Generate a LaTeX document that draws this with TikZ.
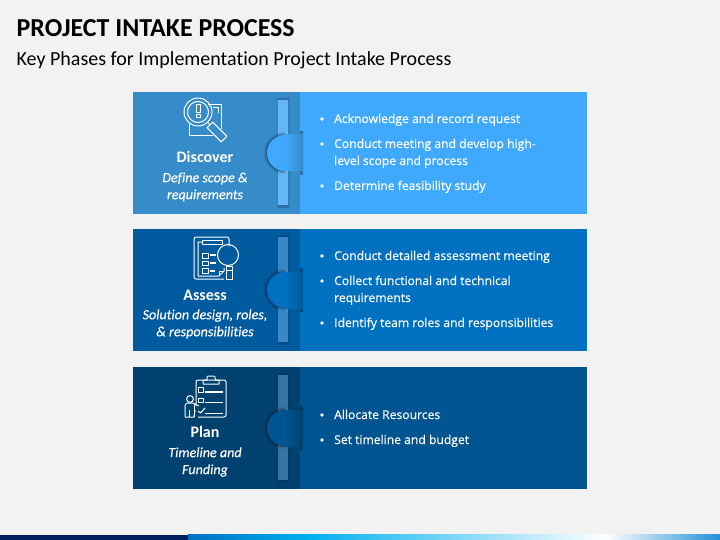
\documentclass[tikz,border=0pt]{standalone}
\usepackage{fontspec}
\setmainfont{Carlito}[RawFeature={-liga}]
\newfontfamily\bodyfont{Open Sans}[FakeBold=0.3]
\newfontfamily\subfont{Carlito}[RawFeature={-liga},ItalicFont={Carlito Italic},ItalicFeatures={FakeBold=0.3}]
\definecolor{pageb}{HTML}{F2F2F2}
\definecolor{navy}{HTML}{002060}
\definecolor{bandA}{HTML}{0070C0}
\definecolor{bandB}{HTML}{00B0F0}
\definecolor{bandC}{HTML}{2090D8}
\definecolor{aL}{HTML}{368BC9}\definecolor{aR}{HTML}{3FA9FF}\definecolor{aB}{HTML}{66B5F5}\definecolor{aD}{HTML}{2A70A6}
\definecolor{bL}{HTML}{005A9E}\definecolor{bR}{HTML}{0070C0}\definecolor{bB}{HTML}{3A86C6}\definecolor{bD}{HTML}{004C86}
\definecolor{cL}{HTML}{00416F}\definecolor{cR}{HTML}{005490}\definecolor{cB}{HTML}{3574A3}\definecolor{cD}{HTML}{00375F}
\tikzset{
 panelbox/.style={draw=none,inner sep=0pt,anchor=north west},
 head/.style={text=white,font=\fontsize{16}{16}\selectfont\bfseries,inner sep=0pt},
 sub/.style={text=white,font=\subfont\fontsize{14.1}{17}\selectfont\itshape,align=center,inner sep=0pt},
 item/.style={text=white,font=\bodyfont\fontsize{12.15}{12.15}\selectfont,anchor=west,inner sep=0pt,text height=9pt,text depth=3pt,yshift=-1pt},
 dotm/.style={circle,fill=white,inner sep=0pt,minimum size=3.8pt},
 ic/.style={draw=white,line width=1pt,line join=round},
 ict/.style={draw=white,line width=1.6pt}
}
\newcommand{\panelbase}[2]{%
 \node[panelbox,fill=#1L,minimum width=167pt,minimum height=122pt] (#1left) at (133,#2) {};
 \node[panelbox,fill=#1R,minimum width=287pt,minimum height=122pt] (#1right) at (300,#2) {};
 \fill[#1D!45!#1L] (276.5,#2+6) rectangle (289.5,#2+116);
 \fill[#1D] (277.5,#2+6) rectangle (288.5,#2+8);
 \fill[#1D] (277.5,#2+113) rectangle (288.5,#2+116);
 \fill[#1B] (278,#2+8) rectangle (288,#2+113);
 \fill[#1D] (300,#2+39) rectangle (303,#2+83);
 \foreach \w/\o in {7/.05,5/.08,3/.12,1.5/.18}{
  \draw[line width=\w pt,black,opacity=\o] (285,#2+43) arc[start angle=-90,end angle=-270,radius=18];}
 \fill[#1R] (285,#2+43) arc[start angle=-90,end angle=-270,radius=18] -- cycle;
 \shade[left color=#1R,right color=#1L] (285,#2+43) rectangle (303,#2+79);
}
\newcommand{\bulletitem}[3]{%
 \node[dotm] (#1d) at (322,#2) {};
 \node[item] (#1t) at (334,#2) {#3};
}
\begin{document}
\begin{tikzpicture}[x=1pt,y=-1pt]
\useasboundingbox (0,0) rectangle (720,540);
\fill[pageb] (0,0) rectangle (720,540);
\node[anchor=base west,inner sep=0pt,font=\fontsize{25.9}{25.9}\selectfont\bfseries] (title) at (16.5,37) {PROJECT INTAKE PROCESS};
\node[anchor=base west,inner sep=0pt,font=\fontsize{20}{20}\selectfont] (subtitle) at (16.5,66) {Key Phases for Implementation Project Intake Process};
% bottom band
\fill[navy] (0,534.7) rectangle (188,540);
\shade[left color=bandA,right color=bandB] (188,534.7) rectangle (308,540);
\shade[left color=bandB,right color=white] (308,534.7) rectangle (606,540);
\shade[left color=white,right color=bandC] (606,534.7) rectangle (720,540);
% panels
\panelbase{a}{92}
\panelbase{b}{229}
\panelbase{c}{367}
% panel 1
\node[head] (h1) at (205,157) {Discover};
\node[sub] (s1) at (205,187) {Define scope \&\\requirements};
\bulletitem{p}{119}{Acknowledge and record request}
\bulletitem{q}{144}{Conduct meeting and develop high-}
\node[item] (q2) at (334,161) {level scope and process};
\bulletitem{r}{186}{Determine feasibility study}
% panel 2
\node[head] (h2) at (205,295) {Assess};
\node[sub] (s2) at (205,324) {Solution design, roles,\\\& responsibilities};
\bulletitem{u}{256}{Conduct detailed assessment meeting}
\bulletitem{v}{281}{Collect functional and technical}
\node[item] (v2) at (334,298) {requirements};
\bulletitem{w}{323}{Identify team roles and responsibilities}
% panel 3
\node[head] (h3) at (205,432) {Plan};
\node[sub] (s3) at (205,462) {Timeline and\\Funding};
\bulletitem{x}{415}{Allocate Resources}
\bulletitem{y}{440}{Set timeline and budget}
% icon 1
\draw[ic] (189,124) -- (189,136) -- (213,136);
\draw[ic] (208,105) -- (221,105) -- (221,129);
\draw[ic] (213,107.5) -- (218.5,107.5) -- (218.5,113);
\draw[ic] (198,112) circle[radius=14];
\draw[ic] (198,112) circle[radius=10.5];
\draw[ic] (196,105) rectangle (200,113);
\draw[ic] (196,115) rectangle (200,118);
\draw[ic] (207,122) -- (210,125);
\draw[ic,rotate around={-45:(217,132)}] (207,128) rectangle (227,136);
% icon 2
\draw[ic] (229,246) -- (229,239) arc[start angle=0,end angle=-90,radius=2] -- (196,237) arc[start angle=-90,end angle=-180,radius=2] -- (194,277) arc[start angle=-180,end angle=-270,radius=2] -- (224,279);
\draw[ic] (202,240) rectangle (222,244);
\draw[ic] (202,242) -- (198,242) -- (198,276) -- (219,276) -- (224,271) -- (224,268);
\draw[ic] (219,276) -- (219,271) -- (224,271);
\draw[ic] (202,253) rectangle (208,258);
\draw[ic] (202,261) rectangle (208,265);
\draw[ic] (202,268) rectangle (208,273);
\draw[ict] (210,255) -- (216,255);
\draw[ict] (210,263) -- (216,263);
\draw[ict] (210,271) -- (215,271);
\draw[ic] (228,255) circle[radius=10.5];
\draw[ic] (226,266) rectangle (232,279);
\draw[ic] (226,270) -- (232,270);
% icon 3
\draw[ic] (196,406) -- (196,382) arc[start angle=-180,end angle=-90,radius=2] -- (224,380) arc[start angle=-90,end angle=0,radius=2] -- (226,415) arc[start angle=0,end angle=90,radius=2] -- (198,417);
\draw[ic] (203,384) -- (203,380) -- (207,380) -- (207,377) arc[start angle=-180,end angle=-90,radius=1] -- (214,376) arc[start angle=-90,end angle=0,radius=1] -- (215,380) -- (219,380) -- (219,384) -- cycle;
\draw[ic] (198.5,387) rectangle (203,392);
\draw[ic] (198.5,398) rectangle (203,402.5);
\draw[ict] (205,392) -- (223,392);
\draw[ic] (205,402) -- (223,402);
\draw[ic] (205,413) -- (223,413);
\draw[ic] (198,411) -- (200.5,413) -- (205,408);
\draw[ic] (190,399) circle[radius=3.4];
\draw[ic] (185,417) -- (185,405) -- (187,403) -- (193,403) -- (199,406);
\draw[ic] (195,410) -- (194,417) -- (185,417);
\draw[ic] (194,417) -- (194,404);
\draw[ic] (189.5,417) -- (189.5,410);
\end{tikzpicture}
\end{document}
